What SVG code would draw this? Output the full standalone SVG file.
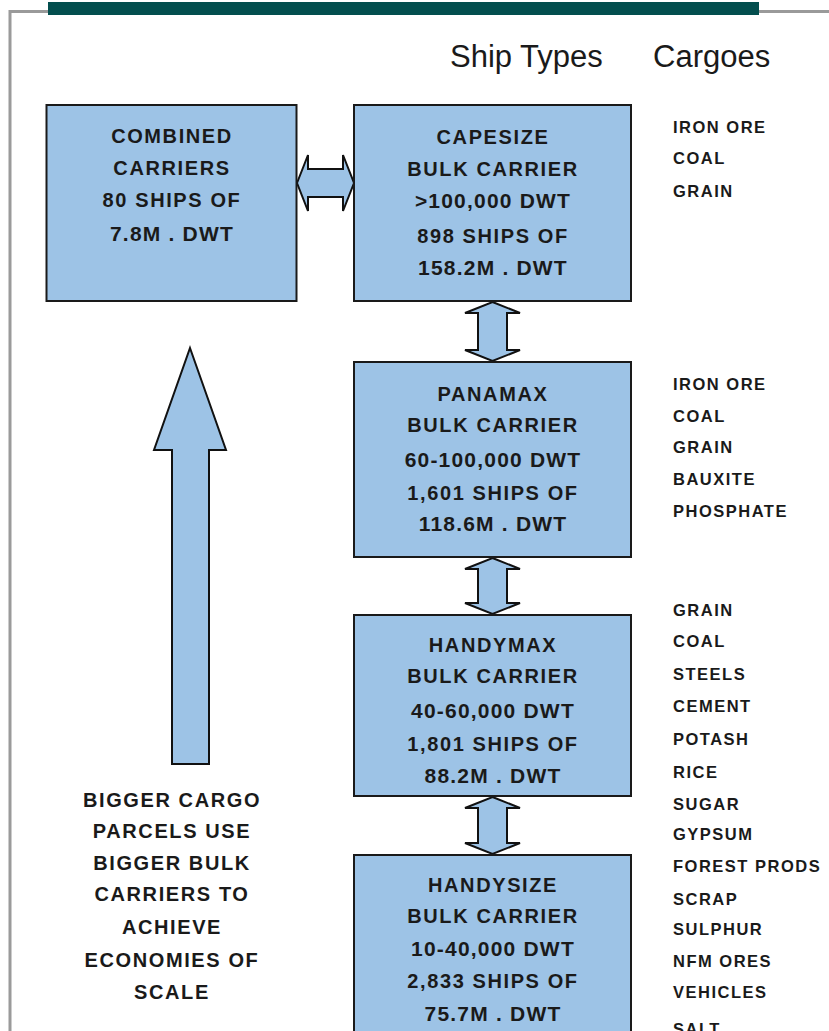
<svg xmlns="http://www.w3.org/2000/svg" width="829" height="1031" viewBox="0 0 829 1031">
<style>
.frame{fill:none;stroke:#9a9a9a;stroke-width:3}
.box{fill:#9dc3e6;stroke:#1a1a1a;stroke-width:2}
.arr{fill:#9dc3e6;stroke:#111;stroke-width:2;stroke-linejoin:miter}
.bt{font-family:"Liberation Sans",Arial,sans-serif;font-weight:bold;font-size:20px;fill:#1a1a1a;text-anchor:middle;letter-spacing:1.6px}
.bt2{font-size:21px;letter-spacing:1.2px}
.cg{font-family:"Liberation Sans",Arial,sans-serif;font-weight:bold;font-size:16.5px;fill:#1a1a1a;letter-spacing:1.5px}
.hd{font-family:"Liberation Sans",Arial,sans-serif;font-size:31px;fill:#1a1a1a}
</style>
<rect width="829" height="1031" fill="#ffffff"/>
<path class="frame" d="M10,1031 V11.5 H829"/>
<rect x="48" y="2" width="711" height="13" fill="#034e4e"/>
<text class="hd" x="450" y="67">Ship Types</text>
<text class="hd" x="653" y="67">Cargoes</text>

<g id="connectors">
<polygon class="arr" points="297,183 308,155 308,169 343,169 343,155 354,183 343,211 343,197 308,197 308,211"/>
<polygon class="arr" points="492.5,302 520,313 507,313 507,350 520,350 492.5,361 465,350 478,350 478,313 465,313"/>
<polygon class="arr" points="492.5,558 520,569 507,569 507,603 520,603 492.5,614 465,603 478,603 478,569 465,569"/>
<polygon class="arr" points="492.5,797 520,808 507,808 507,843 520,843 492.5,854 465,843 478,843 478,808 465,808"/>
</g>

<g id="growth-arrow">
<polygon class="arr" points="190,348 226,450 209,450 209,764 172,764 172,450 154,450"/>
</g>

<g id="combined">
<rect class="box" x="46.5" y="105" width="250" height="196"/>
<text class="bt" x="172" y="143">COMBINED</text>
<text class="bt" x="172" y="175">CARRIERS</text>
<text class="bt" x="172" y="207">80 SHIPS OF</text>
<text class="bt bt2" x="172" y="241">7.8M . DWT</text>
</g>

<g id="capesize">
<rect class="box" x="354" y="105" width="277" height="196"/>
<text class="bt" x="493" y="144">CAPESIZE</text>
<text class="bt" x="493" y="176">BULK CARRIER</text>
<text class="bt bt2" x="493" y="208">&gt;100,000 DWT</text>
<text class="bt" x="493" y="243">898 SHIPS OF</text>
<text class="bt bt2" x="493" y="275">158.2M . DWT</text>
</g>

<g id="panamax">
<rect class="box" x="354" y="362" width="277" height="195"/>
<text class="bt" x="493" y="401">PANAMAX</text>
<text class="bt" x="493" y="432">BULK CARRIER</text>
<text class="bt bt2" x="493" y="467">60-100,000 DWT</text>
<text class="bt" x="493" y="500">1,601 SHIPS OF</text>
<text class="bt bt2" x="493" y="531">118.6M . DWT</text>
</g>

<g id="handymax">
<rect class="box" x="354" y="615" width="277" height="181"/>
<text class="bt" x="493" y="652">HANDYMAX</text>
<text class="bt" x="493" y="683">BULK CARRIER</text>
<text class="bt bt2" x="493" y="718">40-60,000 DWT</text>
<text class="bt" x="493" y="751">1,801 SHIPS OF</text>
<text class="bt bt2" x="493" y="783">88.2M . DWT</text>
</g>

<g id="handysize">
<rect class="box" x="354" y="855" width="277" height="190"/>
<text class="bt" x="493" y="892">HANDYSIZE</text>
<text class="bt" x="493" y="923">BULK CARRIER</text>
<text class="bt bt2" x="493" y="956">10-40,000 DWT</text>
<text class="bt" x="493" y="988">2,833 SHIPS OF</text>
<text class="bt bt2" x="493" y="1021">75.7M . DWT</text>
</g>

<g id="economies-note">
<text class="bt" x="172" y="807">BIGGER CARGO</text>
<text class="bt" x="172" y="838">PARCELS USE</text>
<text class="bt" x="172" y="870">BIGGER BULK</text>
<text class="bt" x="172" y="901">CARRIERS TO</text>
<text class="bt" x="172" y="934">ACHIEVE</text>
<text class="bt" x="172" y="967">ECONOMIES OF</text>
<text class="bt" x="172" y="999">SCALE</text>
</g>

<g id="cargoes-capesize">
<text class="cg" x="673" y="133">IRON ORE</text>
<text class="cg" x="673" y="164">COAL</text>
<text class="cg" x="673" y="197">GRAIN</text>
</g>
<g id="cargoes-panamax">
<text class="cg" x="673" y="390">IRON ORE</text>
<text class="cg" x="673" y="422">COAL</text>
<text class="cg" x="673" y="453">GRAIN</text>
<text class="cg" x="673" y="485">BAUXITE</text>
<text class="cg" x="673" y="517">PHOSPHATE</text>
</g>
<g id="cargoes-handy">
<text class="cg" x="673" y="616">GRAIN</text>
<text class="cg" x="673" y="647">COAL</text>
<text class="cg" x="673" y="680">STEELS</text>
<text class="cg" x="673" y="712">CEMENT</text>
<text class="cg" x="673" y="745">POTASH</text>
<text class="cg" x="673" y="778">RICE</text>
<text class="cg" x="673" y="810">SUGAR</text>
<text class="cg" x="673" y="840">GYPSUM</text>
<text class="cg" x="673" y="872">FOREST PRODS</text>
<text class="cg" x="673" y="905">SCRAP</text>
<text class="cg" x="673" y="935">SULPHUR</text>
<text class="cg" x="673" y="967">NFM ORES</text>
<text class="cg" x="673" y="998">VEHICLES</text>
<text class="cg" x="673" y="1035">SALT</text>
</g>
</svg>
